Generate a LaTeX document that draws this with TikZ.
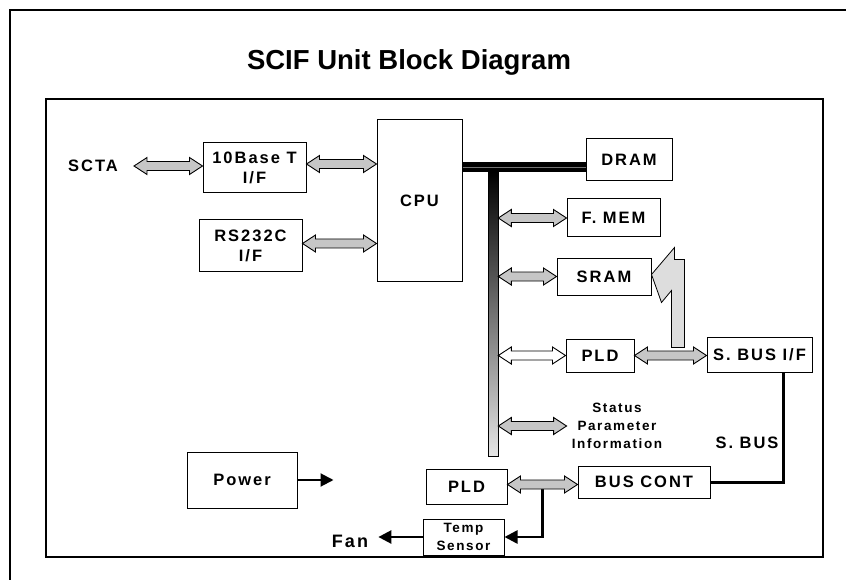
\documentclass[tikz,border=0pt]{standalone}
\usepackage{fontspec}
\setmainfont{Liberation Sans}
\newfontfamily\boxfont{Liberation Sans}[LetterSpace=12]
\usetikzlibrary{arrows.meta, calc}
\definecolor{dot-gray}{HTML}{C6C6C6}
\definecolor{light-gray}{HTML}{DDDDDD}

% fat double-headed arrow between two points (horizontal, y of the first point)
\newcommand{\fatarrow}[3][dot-gray]{%
  \filldraw[line width=0.9pt, fill=#1] let \p1=(#2), \p2=(#3) in
    (\x1,\y1) -- (\x1+13pt,\y1+8.5pt) -- (\x1+13pt,\y1+4.5pt) -- (\x2-13pt,\y1+4.5pt)
    -- (\x2-13pt,\y1+8.5pt) -- (\x2,\y1) -- (\x2-13pt,\y1-8.5pt) -- (\x2-13pt,\y1-4.5pt)
    -- (\x1+13pt,\y1-4.5pt) -- (\x1+13pt,\y1-8.5pt) -- cycle;}

\begin{document}
\begin{tikzpicture}[x=1pt, y=-1pt,
    box/.style={draw, line width=1pt, fill=white, inner sep=0pt, align=center, font=\boxfont\bfseries\fontsize{16.5}{20}\selectfont},
    lbl/.style={inner sep=0pt, align=center, font=\boxfont\bfseries\fontsize{16.5}{20}\selectfont},
    small/.style={inner sep=0pt, align=center, font=\boxfont\bfseries\fontsize{13.5}{18}\selectfont},
    arrow/.style={-{Triangle[length=13pt, width=13pt]}, line width=2.5pt},
    sbus/.style={line width=3pt},
    hbus/.style={line width=4.6pt, double=gray!90!black, double distance=0.8pt}
]
    \useasboundingbox (0,0) rectangle (846,580);
    \draw[line width=2.5pt] (846,10) -- (10,10) -- (10,580);
    \draw[line width=1.3pt] (46,99) rectangle (823,557);
    \node[font=\bfseries\fontsize{27.5}{30}\selectfont] (title) at (409,62) {SCIF Unit Block Diagram};

    \node[lbl] (scta) at (93,166) {SCTA};
    \node[box, minimum width=103pt, minimum height=50pt] (tenbase) at (254.5,168) {10Base T\\I/F};
    \node[box, minimum width=103pt, minimum height=51pt] (rs232) at (250.5,245.5) {RS232C\\I/F};
    \node[box, minimum width=85pt, minimum height=161pt] (cpu) at (419.5,200.5) {CPU};
    \node[box, minimum width=86pt, minimum height=42pt] (dram) at (629,160) {DRAM};
    \node[box, minimum width=93pt, minimum height=38pt] (fmem) at (613.5,218) {F. MEM};
    \node[box, minimum width=94pt, minimum height=37pt] (sram) at (604,276.5) {SRAM};
    \node[box, minimum width=68pt, minimum height=33pt] (pldA) at (600,355.5) {PLD};
    \node[box, minimum width=105pt, minimum height=35pt] (sbusif) at (759.5,354.5) {S. BUS I/F};
    \node[small] (status) at (617,426) {Status\\Parameter\\Information};
    \node[lbl] (sbuslbl) at (747,443) {S. BUS};
    \node[box, minimum width=132pt, minimum height=32pt] (buscont) at (644,482) {BUS CONT};
    \node[box, minimum width=81pt, minimum height=35pt] (pldB) at (466.5,486.5) {PLD};
    \node[box, minimum width=81pt, minimum height=36pt, font=\boxfont\bfseries\fontsize{13.5}{18}\selectfont] (temp) at (463.5,537) {Temp\\Sensor};
    \node[box, minimum width=110pt, minimum height=56pt] (power) at (242,480) {Power};
    \node[lbl, font=\boxfont\bfseries\fontsize{18}{20}\selectfont] (fan) at (350,541) {Fan};

    % bus
    \node[draw, line width=0.6pt, top color=black, bottom color=gray!20, minimum width=10pt, minimum height=284pt, inner sep=0pt] (vbus) at (493,314) {};
    \coordinate (hb) at ([yshift=-7pt]dram.west);
    \draw[hbus] (cpu.east |- hb) -- (hb);

    \fatarrow{$(scta.east)+(16,0)$}{tenbase.west}
    \fatarrow{$(tenbase.east)+(0,-4)$}{cpu.west}
    \fatarrow{$(rs232.east)+(0,-2)$}{cpu.west}
    \fatarrow{vbus.east |- fmem.west}{fmem.west}
    \fatarrow{vbus.east |- sram.west}{sram.west}
    \fatarrow[white]{vbus.east |- pldA.west}{pldA.west}
    \fatarrow{vbus.east |- status.west}{$(status.west)+(-5,0)$}

    % S. BUS I/F to SRAM
    \filldraw[line width=0.8pt, fill=light-gray] ([yshift=2pt]sram.east) -- ++(23,-27) -- ++(0,12) -- ++(10,0)
        -- ++(0,88) -- ++(-13,0) -- ++(0,-57) -- ++(-10,12) -- cycle;
    \fatarrow{pldA.east}{sbusif.west}

    \draw[sbus] ([xshift=23.5pt]sbusif.south) |- (buscont.east);
    \draw[arrow] ($(pldB.east)!.5!(buscont.west)$) |- (temp.east);
    \fatarrow{$(pldB.east)+(0,-2)$}{buscont.west}
    \draw[arrow, shorten >=10pt] (temp.west) -- (temp.west -| fan.east);

    \coordinate (pwrout) at ($(power.east)+(36,0)$);
    \draw[arrow, line width=2pt] (power.east) -- (pwrout);
\end{tikzpicture}
\end{document}
